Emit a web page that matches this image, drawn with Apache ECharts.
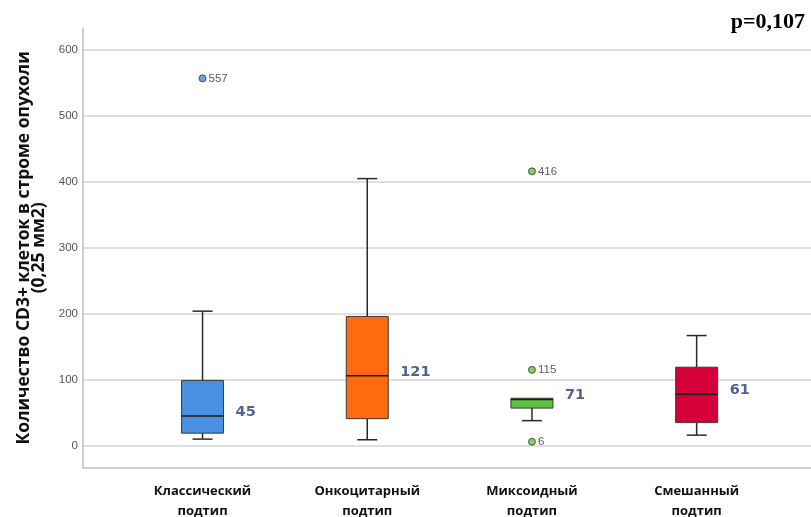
<!DOCTYPE html>
<html>
<head>
<meta charset="utf-8">
<script src="https://cdn.jsdelivr.net/npm/echarts@6/dist/echarts.min.js"></script>
<style>html,body{margin:0;padding:0;background:#fff}#main{width:811px;height:517px}</style>
</head>
<body>
<div id="main"></div>
<script>
// ---- data ----
const categories = ['Классический\nподтип', 'Онкоцитарный\nподтип', 'Миксоидный\nподтип', 'Смешанный\nподтип'];
const whiskerLow  = [10, 9, 38, 16];
const q1          = [19, 41, 57, 35];
const median      = [45, 106, 70, 78];
const q3          = [99, 196, 72, 119];
const whiskerHigh = [204, 405, 72, 167];
const meanLabels  = [45, 121, 71, 61];
const outlierCat  = [0, 2, 2, 2];
const outlierVal  = [557, 416, 115, 6];
const yTicks      = [0, 100, 200, 300, 400, 500, 600];
const boxColors   = ['#4b8fe0', '#ff6a10', '#5cc43a', '#d5003a'];

const boxData = categories.map((c, i) => [i, whiskerLow[i], q1[i], median[i], q3[i], whiskerHigh[i]]);
const outlierData = outlierCat.map((c, i) => [c, outlierVal[i]]);
const labelData = categories.map((c, i) => [i, median[i], meanLabels[i]]);

const BOX_W = 42, CAP_W = 20;
const chart = echarts.init(document.getElementById('main'));
chart.setOption({
  backgroundColor: '#fff',
  animation: false,
  title: {
    text: 'p=0,107', right: 1, top: 6,
    textStyle: { fontFamily: 'Liberation Serif', fontWeight: 'bold', fontSize: 22, color: '#000' }
  },
  grid: [
    { left: 83, right: 0, top: 28, bottom: 49.5, outerBoundsMode: 'none', containLabel: false },
    { left: 83, right: 0, top: 50, bottom: 71.3, outerBoundsMode: 'none', containLabel: false },
    { left: 120.2, right: 32, top: 50, bottom: 71.3, outerBoundsMode: 'none', containLabel: false }
  ],
  xAxis: [
    { gridIndex: 0, type: 'value', min: 0, max: 1, axisLine: { show: true, onZero: false, lineStyle: { color: '#bdbdbd', width: 1.5 } },
      axisTick: { show: false }, axisLabel: { show: false }, splitLine: { show: false } },
    { gridIndex: 1, type: 'value', min: 0, max: 1, show: false },
    { gridIndex: 2, type: 'category', data: categories, boundaryGap: true,
      axisLine: { show: false }, axisTick: { show: false },
      axisLabel: { margin: 36, lineHeight: 20, fontFamily: 'Open Sans', fontWeight: 'bold', fontSize: 13, color: '#111' } }
  ],
  yAxis: [
    { gridIndex: 0, type: 'value', min: 0, max: 1, axisLine: { show: true, lineStyle: { color: '#bdbdbd', width: 1.5 } },
      axisTick: { show: false }, axisLabel: { show: false }, splitLine: { show: false } },
    { gridIndex: 1, type: 'value', min: yTicks[0], max: yTicks[yTicks.length - 1], interval: 100,
      axisLine: { show: false }, axisTick: { show: false },
      axisLabel: { margin: 5, fontFamily: 'Liberation Sans', fontSize: 11.5, color: '#555' },
      splitLine: { show: true, lineStyle: { color: '#d6d6d6', width: 1.5 } },
      name: 'Количество CD3+ клеток в строме опухоли\n(0,25 мм2)',
      nameLocation: 'middle', nameGap: 36, nameRotate: 90,
      nameTextStyle: { fontFamily: 'Open Sans', fontWeight: 'bold', fontSize: 17.5, color: '#111', lineHeight: 15, align: 'center' } },
    { gridIndex: 2, type: 'value', min: 0, max: 600, show: false }
  ],
  series: [
    {
      type: 'custom', xAxisIndex: 2, yAxisIndex: 2, data: boxData,
      renderItem: function (params, api) {
        const i = api.value(0);
        const pLo = api.coord([i, api.value(1)]);
        const pQ1 = api.coord([i, api.value(2)]);
        const pMd = api.coord([i, api.value(3)]);
        const pQ3 = api.coord([i, api.value(4)]);
        const pHi = api.coord([i, api.value(5)]);
        const x = pMd[0];
        const line = { stroke: '#2a2a2a', lineWidth: 1.5 };
        const children = [
          { type: 'line', shape: { x1: x, y1: pLo[1], x2: x, y2: pQ1[1] }, style: line },
          { type: 'line', shape: { x1: x, y1: pQ3[1], x2: x, y2: pHi[1] }, style: line },
          { type: 'line', shape: { x1: x - CAP_W / 2, y1: pLo[1], x2: x + CAP_W / 2, y2: pLo[1] }, style: line },
          { type: 'rect', shape: { x: x - BOX_W / 2, y: pQ3[1], width: BOX_W, height: pQ1[1] - pQ3[1] },
            style: { fill: boxColors[params.dataIndex], stroke: '#3a3a3a', lineWidth: 1 } },
          { type: 'line', shape: { x1: x - BOX_W / 2, y1: pMd[1], x2: x + BOX_W / 2, y2: pMd[1] }, style: { stroke: '#1a1a1a', lineWidth: 1.5 } }
        ];
        if (api.value(5) !== api.value(4)) {
          children.push({ type: 'line', shape: { x1: x - CAP_W / 2, y1: pHi[1], x2: x + CAP_W / 2, y2: pHi[1] }, style: line });
        }
        return { type: 'group', children: children };
      }
    },
    {
      type: 'scatter', xAxisIndex: 2, yAxisIndex: 2, data: outlierData, symbolSize: 7,
      itemStyle: { color: function (p) { return boxColors[p.value[0]]; }, borderColor: '#333', borderWidth: 1 },
      label: { show: true, position: 'right', distance: 2, formatter: function (p) { return p.value[1]; },
        fontFamily: 'Liberation Sans', fontSize: 11.5, color: '#333' }
    },
    {
      type: 'scatter', xAxisIndex: 2, yAxisIndex: 2, data: labelData, symbolSize: 1,
      itemStyle: { color: 'rgba(0,0,0,0)' },
      label: { show: true, position: 'inside', align: 'left', offset: [33, -4],
        formatter: function (p) { return p.value[2]; },
        fontFamily: 'DejaVu Sans', fontWeight: 'bold', fontSize: 14.5, color: '#263a7a' }
    }
  ]
});
</script>
</body>
</html>
